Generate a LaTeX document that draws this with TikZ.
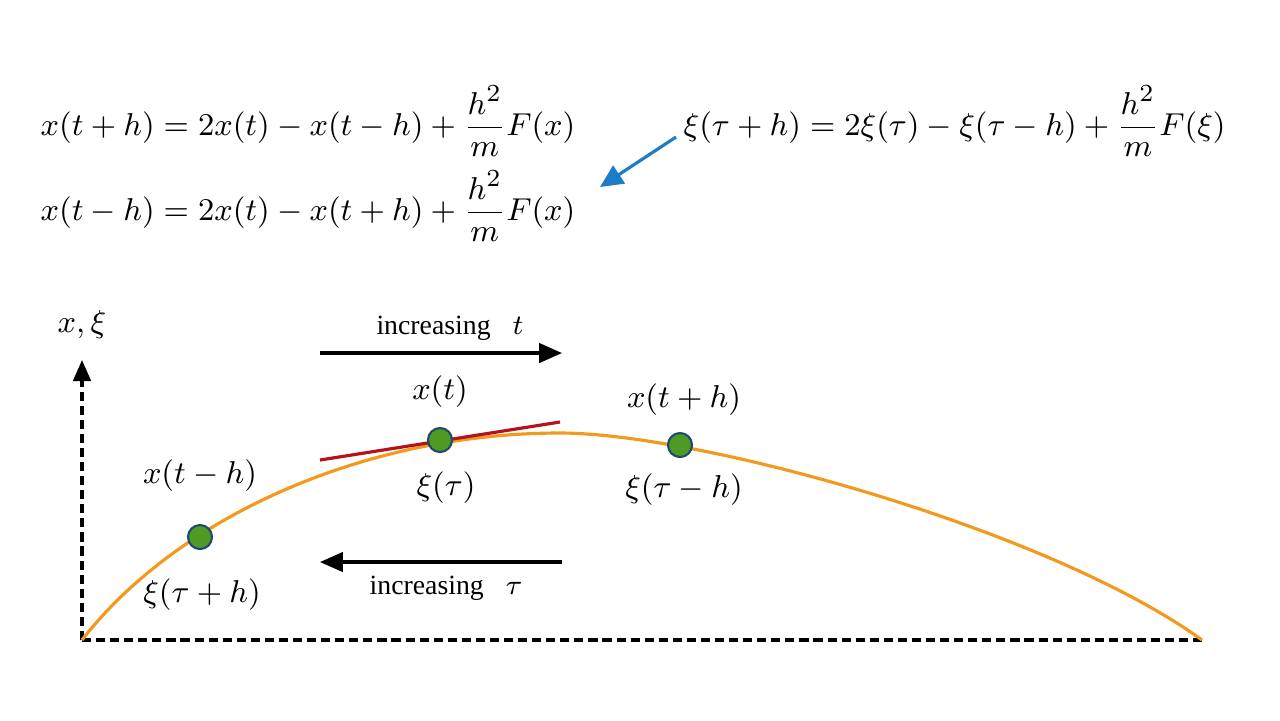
\documentclass[tikz,border=0pt]{standalone}
\usepackage{amsmath}
\usepackage{fontspec}
\newfontfamily\timesfont{Liberation Serif}
\usetikzlibrary{arrows.meta}
\definecolor{curveorange}{HTML}{F39A1E}
\definecolor{tangentred}{HTML}{B5121B}
\definecolor{dotgreen}{HTML}{4E9A25}
\definecolor{dotedge}{HTML}{1F4A6E}
\definecolor{pointerblue}{HTML}{1A7DC6}
\tikzset{
  dot/.style={draw=dotedge, fill=dotgreen, circle, line width=0.6pt, minimum size=0.24cm, inner sep=0pt},
  eqn/.style={anchor=west, inner sep=0pt, font=\fontsize{9.49}{12}\selectfont},
  lbl/.style={inner sep=0pt, font=\fontsize{9.49}{12}\selectfont},
  inc/.style={inner sep=0pt, font=\fontsize{7.9}{10}\selectfont},
  axis/.style={line width=0.9pt, dash pattern=on 2.6pt off 1.4pt},
  flow/.style={line width=0.9pt, -{Triangle[length=6.5pt, width=5.5pt]}}
}
\begin{document}
\begin{tikzpicture}[x=0.01cm, y=-0.01cm]
        \useasboundingbox (0,0) rectangle (1280,720);

        % Equacoes
        \node[eqn] (eqfwd) at (40,121) {\(\displaystyle x(t+h)=2x(t)-x(t-h)+\frac{h^2}{m}F(x)\)};
        \node[eqn] (eqbwd) at (40,206) {\(\displaystyle x(t-h)=2x(t)-x(t+h)+\frac{h^2}{m}F(x)\)};
        \node[eqn] (eqxi) at (683,121) {\(\displaystyle \xi(\tau+h)=2\xi(\tau)-\xi(\tau-h)+\frac{h^2}{m}F(\xi)\)};
        \coordinate (tail) at (676,137);
        \coordinate (tip) at (600,187);
        \draw[pointerblue, line width=0.9pt, -{Triangle[length=6.5pt, width=6pt]}] (tail) -- (tip);

        % Eixos
        \coordinate (O) at (82,640);
        \coordinate (top) at (82,360);
        \coordinate (end) at (1202,640);
        \draw[axis, -{Triangle[length=6pt, width=5pt]}] (O) -- (top);
        \draw[axis] (O) -- (end);
        \node[lbl] (axlabel) at (82,325) {\(x,\xi\)};

        % Trajetoria
        \coordinate (peak) at (560,433);
        \draw[curveorange, line width=0.9pt] (O) .. controls (175,520) and (360,433) .. (peak)
          .. controls (700,433) and (1050,530) .. (end);
        \coordinate (ta) at (320,460);
        \coordinate (tb) at (560,422);
        \draw[tangentred, line width=0.9pt] (ta) -- (tb);

        % Pontos
        \foreach \px/\py/\name in {200/537/prev, 440/440/now, 680/445/next} {
          \node[dot] (p\name) at (\px,\py) {};
        }
        \node[lbl] (lprevx) at (200,476) {\(x(t-h)\)};
        \node[lbl] (lprevxi) at (202,595) {\(\xi(\tau+h)\)};
        \node[lbl] (lnowx) at (440,392) {\(x(t)\)};
        \node[lbl] (lnowxi) at (446,488) {\(\xi(\tau)\)};
        \node[lbl] (lnextx) at (684,400) {\(x(t+h)\)};
        \node[lbl] (lnextxi) at (684,490) {\(\xi(\tau-h)\)};

        % Sentidos do tempo
        \coordinate (fa) at (320,353);
        \coordinate (fb) at (562,353);
        \coordinate (ba) at (562,562);
        \coordinate (bb) at (320,562);
        \draw[flow] (fa) -- (fb);
        \draw[flow] (ba) -- (bb);
        \node[inc] (inct) at (450,328) {{\timesfont increasing}\hspace{0.22cm}\(t\)};
        \node[inc] (inctau) at (446,588) {{\timesfont increasing}\hspace{0.22cm}\(\tau\)};
      \end{tikzpicture}
\end{document}
